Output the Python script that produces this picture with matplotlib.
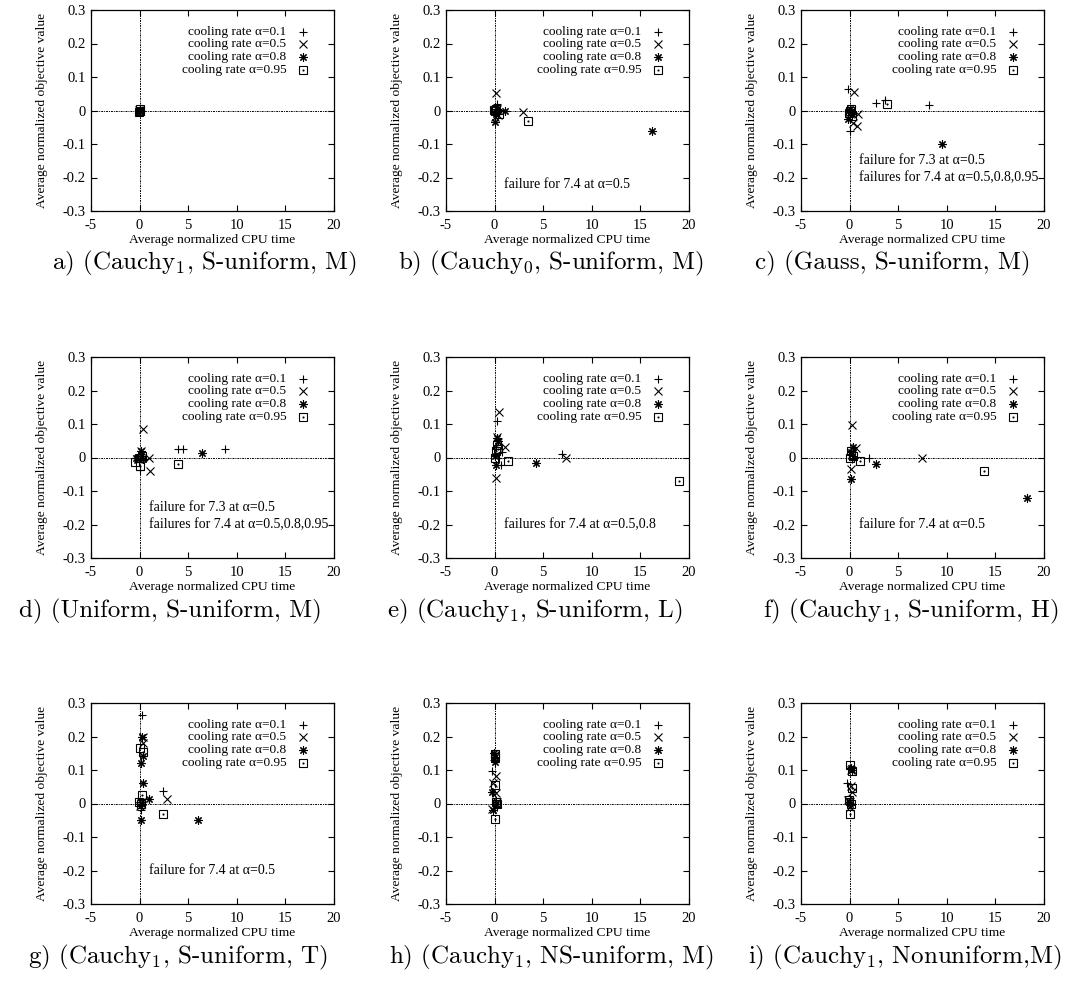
import matplotlib
matplotlib.use("Agg")
import matplotlib.pyplot as plt

plt.rcParams['font.family'] = ['Liberation Serif', 'DejaVu Serif']
plt.rcParams['mathtext.fontset'] = 'cm'
plt.rcParams['axes.unicode_minus'] = False

# cooling rates in the legend
rates = ['0.1', '0.5', '0.8', '0.95']

# (x list, y list) per panel and cooling rate
a_01 = ([0.0, 0.05, -0.05], [0.0, 0.002, -0.002])
a_05 = ([0.0, 0.05, -0.05], [0.0, -0.002, 0.002])
a_08 = ([0.0, 0.05, -0.05], [0.0, 0.001, -0.001])
a_095 = ([0.0, 0.05, -0.05], [0.0, 0.003, -0.003])

b_01 = ([0.0, 0.1, 0.2, 0.3, 0.1], [0.0, 0.005, 0.018, -0.01, -0.005])
b_05 = ([0.1, 0.0, 2.9, 0.2, 0.3], [0.052, -0.02, -0.004, 0.005, -0.012])
b_08 = ([0.0, 1.1, 16.2, 0.1, 0.2], [-0.034, 0.0, -0.06, -0.01, 0.003])
b_095 = ([0.0, 0.1, 3.4, 0.5, -0.1], [0.0, 0.004, -0.031, -0.01, 0.002])

c_01 = ([-0.2, 2.7, 3.6, 8.2, 0.0, 0.1], [0.065, 0.023, 0.03, 0.015, -0.06, 0.002])
c_05 = ([0.5, 0.8, 0.85, 0.35, 0.1], [0.055, -0.047, -0.01, -0.037, -0.005])
c_08 = ([9.5, -0.2, 0.2, 0.0], [-0.1, -0.024, -0.01, 0.004])
c_095 = ([3.8, 0.0, 0.1, -0.1, 0.2], [0.018, 0.0, 0.005, -0.008, -0.015])

d_01 = ([4.0, 4.5, 8.8, 0.0, -0.3, 0.2], [0.024, 0.024, 0.026, -0.038, 0.0, 0.005])
d_05 = ([0.4, 1.1, 1.0, 0.15, -0.2], [0.086, -0.04, 0.0, 0.02, -0.003])
d_08 = ([6.4, 0.1, -0.4, 0.3], [0.012, 0.018, 0.0, -0.005])
d_095 = ([3.9, 0.05, -0.45, 0.2, -0.1], [-0.02, -0.025, -0.012, 0.003, 0.0])

e_01 = ([0.2, 6.9, 0.8, 0.7, 0.1, 0.3], [0.108, 0.011, 0.015, -0.022, 0.03, 0.0])
e_05 = ([0.45, 1.1, 0.15, 7.3, 0.2, 0.3], [0.136, 0.032, -0.06, 0.0, 0.06, 0.045])
e_08 = ([4.3, 0.2, 0.1, 0.3, 0.0], [-0.016, 0.058, -0.021, 0.05, 0.005])
e_095 = ([1.4, 19.0, 0.2, 0.1, 0.0, 0.3], [-0.01, -0.07, 0.037, 0.02, 0.0, 0.025])

f_01 = ([1.95, 0.1, 0.3, 0.2], [0.0, 0.02, 0.005, -0.003])
f_05 = ([0.25, 0.1, 7.4, 0.7, 0.2], [0.098, -0.033, 0.0, 0.027, 0.01])
f_08 = ([0.15, 2.7, 18.3, 0.35, 0.1], [-0.064, -0.02, -0.12, 0.03, 0.015])
f_095 = ([1.1, 13.8, 0.1, 0.3, 0.0], [-0.01, -0.04, 0.02, 0.005, 0.0])

g_01 = ([0.25, 2.4, 0.1, 0.0, 0.2], [0.265, 0.037, -0.02, 0.005, -0.005])
g_05 = ([0.35, 2.8, 0.3, 0.1, 0.0], [0.182, 0.012, 0.2, 0.005, -0.008])
g_08 = ([0.25, 0.3, 0.1, 0.4, 1.0, 0.1, 6.0, 0.2], [0.2, 0.142, 0.122, 0.06, 0.012, -0.05, -0.05, 0.0])
g_095 = ([0.0, 0.3, 0.2, 2.4, 0.1, -0.1], [0.165, 0.155, 0.025, -0.03, 0.0, 0.005])

h_01 = ([-0.3, -0.1, 0.1, 0.2, -0.2], [0.098, 0.13, 0.01, -0.01, 0.035])
h_05 = ([0.15, -0.2, 0.0, 0.2, -0.3, 0.1], [0.083, 0.06, 0.145, 0.005, -0.015, 0.03])
h_08 = ([-0.1, 0.0, -0.3, 0.1, -0.2, 0.0], [0.15, 0.125, 0.035, 0.0, -0.02, 0.14])
h_095 = ([0.0, 0.05, 0.05, 0.1, 0.2, 0.0], [0.148, 0.055, -0.047, 0.005, 0.0, 0.14])

i_01 = ([-0.3, 0.0, 0.1, -0.1], [0.062, 0.015, -0.005, 0.0])
i_05 = ([0.15, -0.2, 0.1, 0.0, 0.2], [0.053, 0.01, 0.1, -0.01, 0.035])
i_08 = ([0.1, 0.2, 0.0, -0.1], [0.105, 0.1, 0.0, 0.005])
i_095 = ([0.0, 0.2, 0.25, 0.0, 0.1, -0.1], [0.115, 0.098, 0.047, -0.032, 0.0, 0.01])

panels = [
    [a_01, a_05, a_08, a_095], [b_01, b_05, b_08, b_095], [c_01, c_05, c_08, c_095],
    [d_01, d_05, d_08, d_095], [e_01, e_05, e_08, e_095], [f_01, f_05, f_08, f_095],
    [g_01, g_05, g_08, g_095], [h_01, h_05, h_08, h_095], [i_01, i_05, i_08, i_095],
]

captions = [
    r"a) ($\mathrm{Cauchy}_1$, S-uniform, M)",
    r"b) ($\mathrm{Cauchy}_0$, S-uniform, M)",
    r"c) (Gauss, S-uniform, M)",
    r"d) (Uniform, S-uniform, M)",
    r"e) ($\mathrm{Cauchy}_1$, S-uniform, L)",
    r"f) ($\mathrm{Cauchy}_1$, S-uniform, H)",
    r"g) ($\mathrm{Cauchy}_1$, S-uniform, T)",
    r"h) ($\mathrm{Cauchy}_1$, NS-uniform, M)",
    r"i) ($\mathrm{Cauchy}_1$, Nonuniform,M)",
]
caption_x = [204, 551, 893, 170, 535, 911, 178, 551, 905]

notes = [
    [],
    [(1, -0.22, "failure for 7.4 at α=0.5")],
    [(1, -0.15, "failure for 7.3 at α=0.5"), (1, -0.20, "failures for 7.4 at α=0.5,0.8,0.95")],
    [(1, -0.15, "failure for 7.3 at α=0.5"), (1, -0.20, "failures for 7.4 at α=0.5,0.8,0.95")],
    [(1, -0.20, "failures for 7.4 at α=0.5,0.8")],
    [(1, -0.20, "failure for 7.4 at α=0.5")],
    [(1, -0.20, "failure for 7.4 at α=0.5")],
    [],
    [],
]

W, H = 1075, 982
fig = plt.figure(figsize=(W / 100, H / 100), dpi=100)

col_left = [91, 446, 801]
row_top = [10, 357, 703]
caption_y = [263, 611, 957]
aw, ah = 243, 201

markers = ['+', 'x', (8, 2, 0), 's']


def draw_marker(ax, x, y, k, trans=None):
    kw = dict(linestyle='none', color='black', markeredgewidth=0.8, clip_on=False)
    if trans is not None:
        kw['transform'] = trans
    if k == 3:
        ax.plot(x, y, marker='s', fillstyle='none', markersize=5.5, **kw)
        ax.plot(x, y, marker='.', markersize=1.5, **kw)
    else:
        ax.plot(x, y, marker=markers[k], markersize=6, **kw)


for n in range(9):
    r, c = divmod(n, 3)
    left = col_left[c] / W
    bottom = 1 - (row_top[r] + ah) / H
    ax = fig.add_axes([left, bottom, aw / W, ah / H])
    ax.set_xlim(-5, 20)
    ax.set_ylim(-0.3, 0.3)
    ax.set_xticks([-5, 0, 5, 10, 15, 20])
    ax.set_yticks([-0.3, -0.2, -0.1, 0, 0.1, 0.2, 0.3])
    ax.set_yticklabels(['-0.3', '-0.2', '-0.1', '0', '0.1', '0.2', '0.3'])
    ax.tick_params(direction='in', top=True, right=True, length=4, width=0.8,
                   labelsize=10.5, pad=4)
    ax.tick_params(axis='x', pad=6)
    for s in ax.spines.values():
        s.set_linewidth(0.9)
    ax.axhline(0, color='black', lw=0.7, ls=(0, (2, 1, 1, 1)), zorder=1)
    ax.axvline(0, color='black', lw=0.7, ls=(0, (2, 1, 1, 1)), zorder=1)
    ax.set_xlabel("Average normalized CPU time", fontsize=9.7, labelpad=1)
    ax.set_ylabel("Average normalized objective value", fontsize=9.7, labelpad=10)

    for k, (xs, ys) in enumerate(panels[n]):
        draw_marker(ax, xs, ys, k)
        ty = 1 - (0.108 + 0.063 * k)
        ax.text(0.805, ty, "cooling rate α=" + rates[k], transform=ax.transAxes,
                ha='right', va='center', fontsize=9.6)
        draw_marker(ax, [0.872], [ty], k, trans=ax.transAxes)

    for tx, ty, t in notes[n]:
        ax.text(tx, ty, t, ha='left', va='center', fontsize=10)

    fig.text(caption_x[n] / W, 1 - caption_y[r] / H, captions[n], ha='center',
             va='center', fontsize=18, family='cmr10')

fig.savefig("out.png", dpi=100)
